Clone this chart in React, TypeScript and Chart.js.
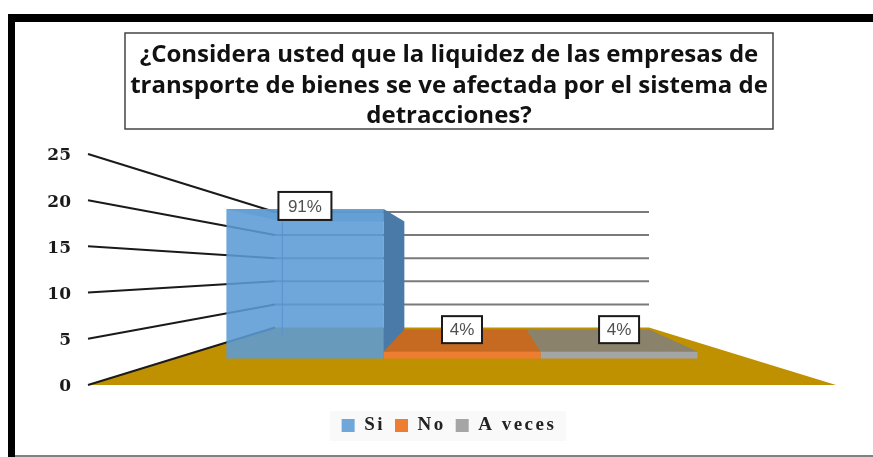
import React, { useEffect, useRef } from "react";
import { Chart, registerables } from "chart.js";

Chart.register(...registerables);

const categories = ["Respuesta"];
const seriesNames = ["Si", "No", "A veces"];
const seriesValues = [21, 1, 1];
const seriesPercent = ["91%", "4%", "4%"];
const yTicks = [0, 5, 10, 15, 20, 25];
const titleLines = [
  "¿Considera usted que la liquidez de las empresas de",
  "transporte de bienes se ve afectada por el sistema de",
  "detracciones?",
];

const FRONT = ["rgba(91,155,213,0.88)", "#ED7D31", "#A5A5A5"];
const TOP = ["rgba(70,125,180,0.5)", "#C66A22", "#8A826A"];
const SIDE = ["#4A7BA8", "#C66A22", "#8A826A"];
const LABEL_LIFT = [3, 22, 22];
const VP = { x: 462, y: 270 };
const FRONT_S = 0.772;

const front = (x: number, y: number) => ({
  x: VP.x + (x - VP.x) * FRONT_S,
  y: VP.y + (y - VP.y) * FRONT_S,
});
const barBack = (x: number, y: number, area: any) => ({
  x: 283 + (x - 158) * 0.6,
  y: 335 + (y - area.bottom) * 0.585,
});
const wall = (x: number, y: number) => ({
  x: VP.x + (x - VP.x) * 0.5,
  y: VP.y + (y - VP.y) * 0.5,
});

function poly(ctx: CanvasRenderingContext2D, pts: { x: number; y: number }[], fill: string) {
  ctx.beginPath();
  pts.forEach((p, i) => (i ? ctx.lineTo(p.x, p.y) : ctx.moveTo(p.x, p.y)));
  ctx.closePath();
  ctx.fillStyle = fill;
  ctx.fill();
}

function spaced(chart: any, fn: () => any) {
  const c = chart.ctx as any;
  const prev = c.letterSpacing;
  c.letterSpacing = "2.5px";
  const r = fn();
  c.letterSpacing = prev;
  return r;
}

const scene3d = {
  id: "scene3d",
  beforeLayout(chart: any) {
    const lg = chart.legend;
    if (lg && !lg.__spaced) {
      lg.__spaced = true;
      const fit = lg.fit.bind(lg);
      const draw = lg.draw.bind(lg);
      lg.fit = () => spaced(chart, fit);
      lg.draw = () => spaced(chart, draw);
    }
  },
  beforeDraw(chart: any) {
    const { ctx, width, height } = chart;
    ctx.save();
    ctx.fillStyle = "#fff";
    ctx.fillRect(0, 0, width, height);
    ctx.fillStyle = "#000";
    ctx.fillRect(8, 14, width - 8, 8);
    ctx.fillRect(8, 14, 7, height - 14);
    ctx.fillStyle = "#808080";
    ctx.fillRect(15, height - 2, width - 15, 2);
    ctx.fillStyle = "#fff";
    ctx.strokeStyle = "#444";
    ctx.lineWidth = 1.5;
    ctx.fillRect(125, 33, 648, 96);
    ctx.strokeRect(125, 33, 648, 96);
    ctx.fillStyle = "#f9f9f9";
    ctx.fillRect(330, 411, 236, 30);
    ctx.restore();
  },
  beforeDatasetsDraw(chart: any) {
    const { ctx, chartArea: a, scales } = chart;
    const y = scales.y;
    ctx.save();
    const fl = [
      { x: a.left, y: a.bottom },
      { x: a.right, y: a.bottom },
      wall(a.right, a.bottom),
      wall(a.left, a.bottom),
    ];
    poly(ctx, fl, "#BF9000");
    yTicks.forEach((t) => {
      const py = y.getPixelForValue(t);
      const b = wall(a.left, py);
      ctx.beginPath();
      ctx.moveTo(a.left, py);
      ctx.lineTo(b.x, b.y);
      ctx.strokeStyle = "#1a1a1a";
      ctx.lineWidth = 2;
      ctx.stroke();
      if (t > 0) {
        const e = wall(a.right, py);
        ctx.beginPath();
        ctx.moveTo(b.x, b.y);
        ctx.lineTo(e.x, e.y);
        ctx.strokeStyle = "#7a7a7a";
        ctx.stroke();
      }
    });
    seriesValues.forEach((_, i) => {
      const el = chart.getDatasetMeta(i).data[0];
      const l = el.x - el.width / 2;
      const r = el.x + el.width / 2;
      const fr = (x: number, yy: number) => front(x, yy);
      const bk = (x: number, yy: number) => barBack(x, yy, a);
      poly(ctx, [fr(l, el.y), fr(r, el.y), bk(r, el.y), bk(l, el.y)], TOP[i]);
      poly(ctx, [fr(r, el.y), bk(r, el.y), bk(r, el.base), fr(r, el.base)], SIDE[i]);
      if (i === 0) {
        const p = bk(l, el.y);
        const q = bk(l, el.base);
        ctx.beginPath();
        ctx.moveTo(p.x, p.y);
        ctx.lineTo(q.x, q.y);
        ctx.strokeStyle = "#2f5f8f";
        ctx.lineWidth = 1;
        ctx.stroke();
      }
    });
    ctx.restore();
    ctx.save();
    ctx.translate(VP.x, VP.y);
    ctx.scale(FRONT_S, FRONT_S);
    ctx.translate(-VP.x, -VP.y);
  },
  afterDatasetsDraw(chart: any) {
    const { ctx } = chart;
    ctx.restore();
    ctx.save();
    ctx.font = "17px 'Liberation Sans'";
    ctx.textAlign = "center";
    ctx.textBaseline = "middle";
    seriesPercent.forEach((txt, i) => {
      const el = chart.getDatasetMeta(i).data[0];
      const p = front(el.x, el.y);
      const w = i === 0 ? 53 : 40;
      const h = i === 0 ? 28 : 27;
      const cy = p.y - LABEL_LIFT[i];
      ctx.fillStyle = "#fff";
      ctx.fillRect(p.x - w / 2, cy - h / 2, w, h);
      ctx.strokeStyle = "#1a1a1a";
      ctx.lineWidth = 2;
      ctx.strokeRect(p.x - w / 2, cy - h / 2, w, h);
      ctx.fillStyle = "#505050";
      ctx.fillText(txt, p.x, cy + 1);
    });
    ctx.restore();
  },
};

export default function App() {
  const ref = useRef<HTMLCanvasElement>(null);
  useEffect(() => {
    const chart = new Chart(ref.current!, {
      type: "bar",
      data: {
        labels: categories,
        datasets: seriesNames.map((n, i) => ({
          label: n,
          data: [seriesValues[i]],
          backgroundColor: FRONT[i],
          categoryPercentage: 0.816,
          barPercentage: 1,
          yAxisID: "y",
        })),
      },
      options: {
        responsive: false,
        animation: false,
        layout: { padding: { left: 25, right: 0, top: 0, bottom: 12 } },
        plugins: {
          tooltip: { enabled: false },
          title: {
            display: true,
            text: titleLines,
            color: "#111",
            font: { family: "'Open Sans'", weight: "bold", size: 24, lineHeight: 1.27 },
            padding: { top: 40, bottom: 22.5 },
          },
          legend: {
            position: "bottom",
            labels: {
              font: { family: "'Liberation Serif'", weight: "bold", size: 19 },
              color: "#222",
              boxWidth: 13,
              boxHeight: 13,
              padding: 10,
            },
          },
        },
        scales: {
          x: {
            display: true,
            grid: { display: false },
            border: { display: false },
            ticks: { display: false },
            afterFit: (s: any) => { s.height = 21; },
          },
          y: {
            min: 0,
            max: 25,
            afterFit: (s: any) => { s.width = 63; },
            afterBuildTicks: (s: any) => { s.ticks = yTicks.map((v) => ({ value: v })); },
            grid: { display: false },
            border: { display: false },
            ticks: {
              padding: 9,
              labelOffset: 2,
              color: "#1a1a1a",
              font: { family: "'DejaVu Serif'", weight: "bold", size: 17 },
            },
          },
          y2: {
            position: "right",
            display: true,
            min: 0,
            max: 25,
            grid: { display: false },
            border: { display: false },
            ticks: { display: false },
            afterFit: (s: any) => { s.width = 37; },
          },
        },
      },
      plugins: [scene3d],
    } as any);
    return () => chart.destroy();
  }, []);
  return (
    <div style={{ position: "absolute", left: 0, top: 0, width: 873, height: 457 }}>
      <canvas ref={ref} width={873} height={457} style={{ display: "block" }} />
    </div>
  );
}
